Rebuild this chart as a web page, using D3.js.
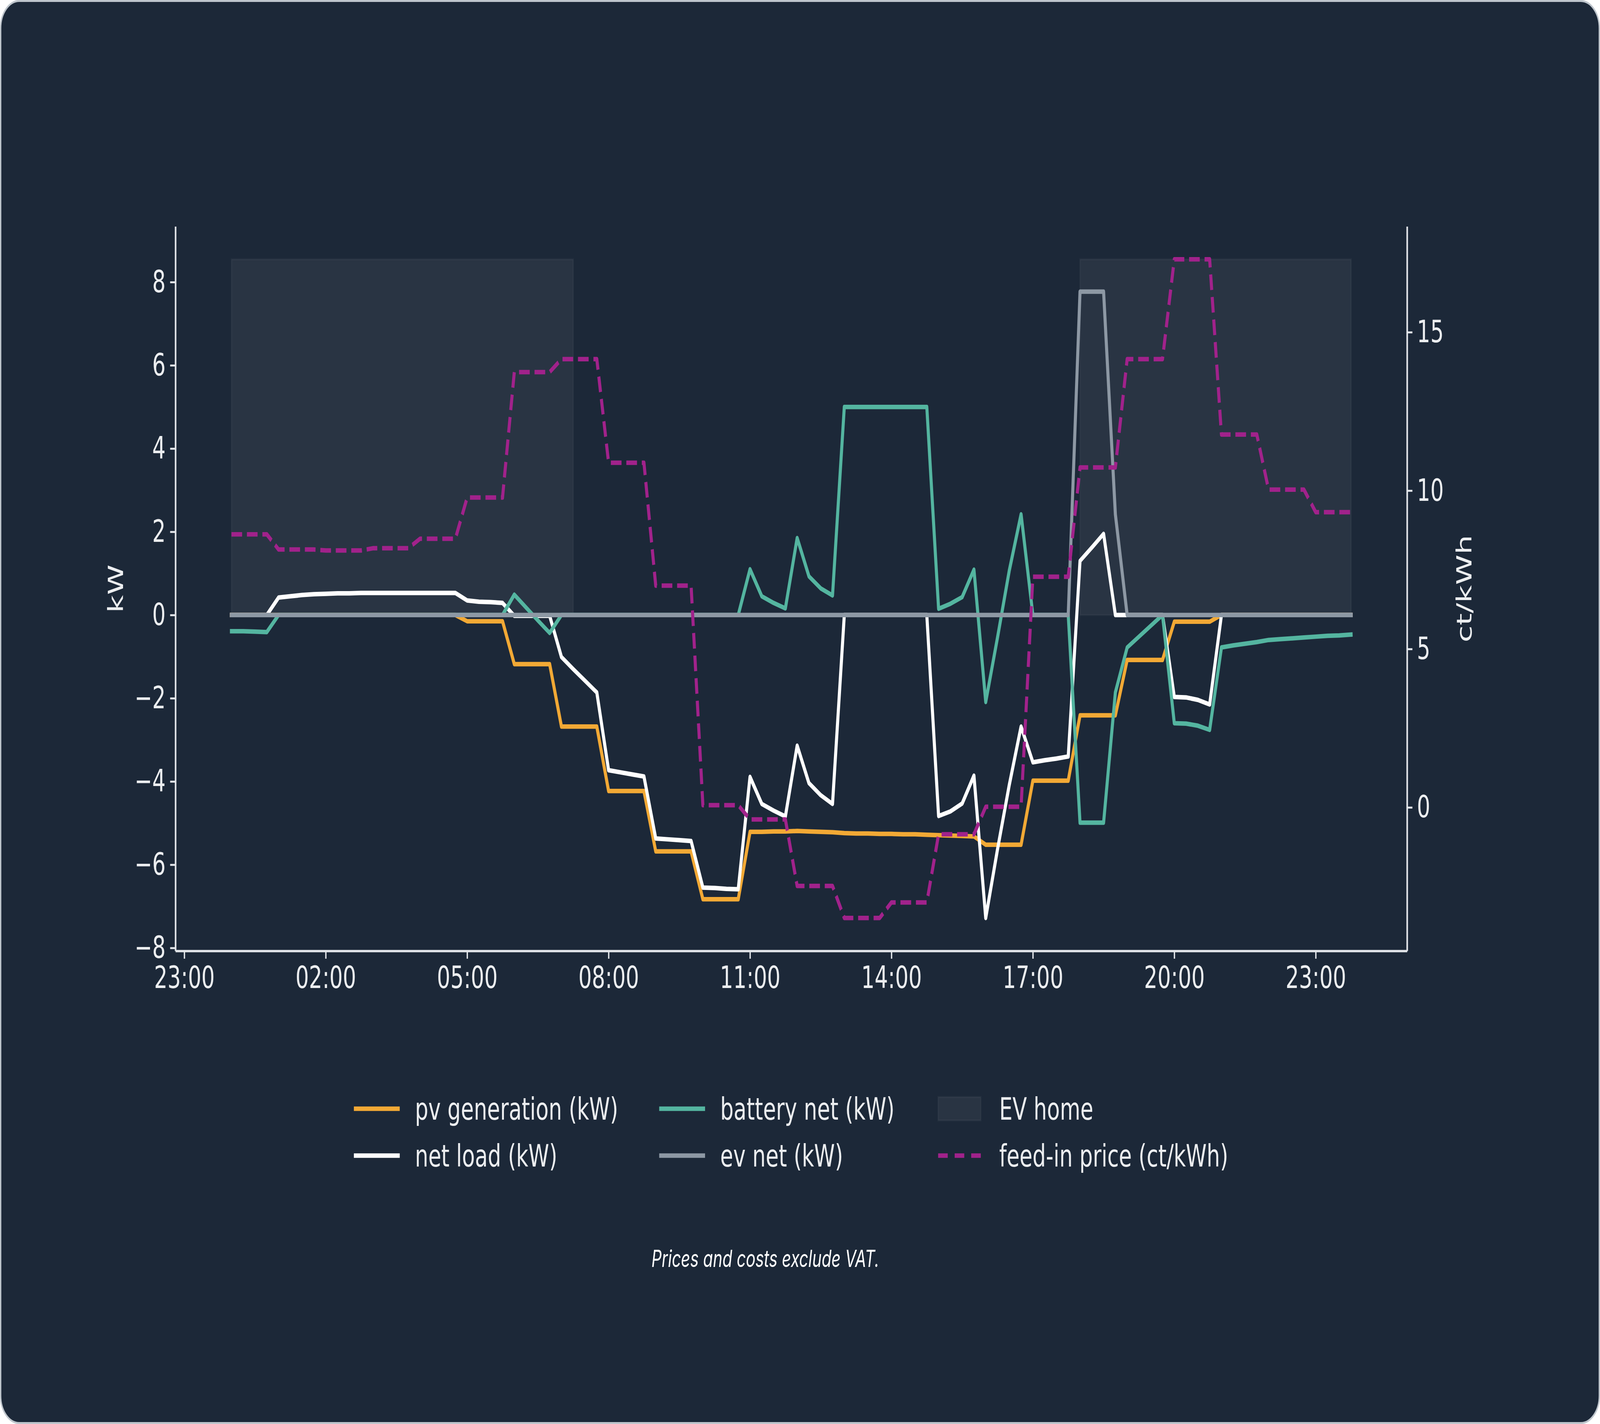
<!DOCTYPE html>
<html>
<head>
<meta charset="utf-8">
<script src="https://cdn.jsdelivr.net/npm/d3@7"></script>
<style>
  html, body { margin: 0; background: #ffffff; overflow: hidden; }
  svg { display: block; }
</style>
</head>
<body>
<script>
// Values per 15 minute slot, 00:00 .. 23:45 (one line per hour)
let pvGeneration = [
  0, 0, 0, 0,
  0, 0, 0, 0,
  0, 0, 0, 0,
  0, 0, 0, 0,
  0, 0, 0, 0,
  -0.15, -0.15, -0.15, -0.15,
  -1.18, -1.18, -1.18, -1.18,
  -2.68, -2.68, -2.68, -2.68,
  -4.23, -4.23, -4.23, -4.23,
  -5.68, -5.68, -5.68, -5.68,
  -6.83, -6.83, -6.83, -6.83,
  -5.21, -5.21, -5.20, -5.20,
  -5.19, -5.20, -5.21, -5.22,
  -5.24, -5.25, -5.25, -5.26,
  -5.26, -5.27, -5.27, -5.28,
  -5.29, -5.30, -5.31, -5.32,
  -5.52, -5.52, -5.52, -5.52,
  -3.98, -3.98, -3.98, -3.98,
  -2.41, -2.41, -2.41, -2.41,
  -1.08, -1.08, -1.08, -1.08,
  -0.16, -0.16, -0.16, -0.16,
  0, 0, 0, 0,
  0, 0, 0, 0,
  0, 0, 0, 0
];

let netLoad = [
  0, 0, 0, 0,
  0.42, 0.45, 0.48, 0.50,
  0.51, 0.52, 0.52, 0.53,
  0.53, 0.53, 0.53, 0.53,
  0.53, 0.53, 0.53, 0.53,
  0.35, 0.32, 0.31, 0.29,
  -0.02, -0.02, -0.02, -0.02,
  -1.01, -1.30, -1.58, -1.86,
  -3.73, -3.78, -3.83, -3.88,
  -5.37, -5.39, -5.41, -5.43,
  -6.55, -6.56, -6.58, -6.59,
  -3.89, -4.54, -4.70, -4.84,
  -3.14, -4.04, -4.33, -4.54,
  0, 0, 0, 0,
  0, 0, 0, 0,
  -4.83, -4.72, -4.53, -3.86,
  -7.28, -5.63, -4.08, -2.68,
  -3.54, -3.49, -3.45, -3.40,
  1.30, 1.62, 1.95, 0,
  0, 0, 0, 0,
  -1.97, -1.98, -2.04, -2.15,
  0, 0, 0, 0,
  0, 0, 0, 0,
  0, 0, 0, 0
];

let batteryNet = [
  -0.39, -0.39, -0.40, -0.41,
  0, 0, 0, 0,
  0, 0, 0, 0,
  0, 0, 0, 0,
  0, 0, 0, 0,
  0, 0, 0, 0,
  0.49, 0.18, -0.13, -0.43,
  0, 0, 0, 0,
  0, 0, 0, 0,
  0, 0, 0, 0,
  0, 0, 0, 0,
  1.10, 0.45, 0.29, 0.16,
  1.85, 0.93, 0.64, 0.47,
  5.0, 5.0, 5.0, 5.0,
  5.0, 5.0, 5.0, 5.0,
  0.15, 0.27, 0.43, 1.09,
  -2.09, -0.54, 1.07, 2.42,
  0, 0, 0, 0,
  -4.99, -4.99, -4.99, -1.86,
  -0.78, -0.52, -0.26, 0,
  -2.60, -2.61, -2.66, -2.76,
  -0.78, -0.73, -0.69, -0.65,
  -0.60, -0.58, -0.56, -0.54,
  -0.52, -0.50, -0.49, -0.47
];

let evNet = [
  0, 0, 0, 0,  0, 0, 0, 0,  0, 0, 0, 0,  0, 0, 0, 0,
  0, 0, 0, 0,  0, 0, 0, 0,  0, 0, 0, 0,  0, 0, 0, 0,
  0, 0, 0, 0,  0, 0, 0, 0,  0, 0, 0, 0,  0, 0, 0, 0,
  0, 0, 0, 0,  0, 0, 0, 0,  0, 0, 0, 0,  0, 0, 0, 0,
  0, 0, 0, 0,  0, 0, 0, 0,
  7.77, 7.77, 7.77, 2.42,
  0, 0, 0, 0,  0, 0, 0, 0,  0, 0, 0, 0,  0, 0, 0, 0,  0, 0, 0, 0
];

// hourly feed-in tariff, ct/kWh, hours 00 .. 23
let feedInPrice = [
  8.62, 8.14, 8.11, 8.18, 8.48, 9.78, 13.74, 14.15,
  10.88, 7.00, 0.07, -0.38, -2.48, -3.49, -3.00, -0.85,
  0.02, 7.28, 10.73, 14.15, 17.30, 11.77, 10.03, 9.32
];

// periods with the EV at home (hours)
let evHome = [[0, 7.25], [18, 23.75]];

let xTicks = [-1, 2, 5, 8, 11, 14, 17, 20, 23];
let kwTicks = [-8, -6, -4, -2, 0, 2, 4, 6, 8];
let priceTicks = [0, 5, 10, 15];

let legendItems = [
  {label: 'pv generation (kW)', color: '#f2a935', kind: 'line'},
  {label: 'net load (kW)', color: '#ffffff', kind: 'line'},
  {label: 'battery net (kW)', color: '#54b5a0', kind: 'line'},
  {label: 'ev net (kW)', color: '#8d98a4', kind: 'line'},
  {label: 'EV home', color: '#ffffff', kind: 'patch'},
  {label: 'feed-in price (ct/kWh)', color: '#a1228b', kind: 'dash'}
];

// drawing is laid out on a 6000 x 3645 canvas and scaled to the window
let
  width = 6000,
  height = 3645;

let plot = {left: 658, right: 5276.5, top: 579.5, bottom: 2434};

let bg = '#1c2838',
    axisColor = '#e3e6ea',
    textColor = '#eceef0',
    font = 'DejaVu Sans',
    fontSize = 79,
    lw = 11.5;

let slot = 0.25; // hours per sample
let toPoints = arr => arr.map((v, i) => ({t: i * slot, v: v}));
let pricePoints = pvGeneration.map((d, i) => ({t: i * slot, v: feedInPrice[Math.floor(i * slot)]}));

// matplotlib-like 5% margin
let pad = ([a, b]) => { let p = (b - a) * 0.05; return [a - p, b + p]; };

let svg = d3.select('body')
            .append('svg')
            .attr('viewBox', `0 0 ${width} ${height}`)
            .attr('preserveAspectRatio', 'none')
            .attr('width', window.innerWidth || width)
            .attr('height', window.innerHeight || height);

// card
svg.append('rect')
  .attr('x', 2.5).attr('y', 2.5)
  .attr('width', width - 5).attr('height', height - 5)
  .attr('rx', 70).attr('ry', 70)
  .attr('fill', bg)
  .attr('stroke', '#bec5cc')
  .attr('stroke-width', 5);

// scales
let allKw = pvGeneration.concat(netLoad, batteryNet, evNet);
let evHomeTop = d3.max(evNet) * 1.1;

let xScale = d3.scaleLinear()
              .domain(pad([0, (pvGeneration.length - 1) * slot]))
              .range([plot.left, plot.right]);

let yScale = d3.scaleLinear()
              .domain(pad([d3.min(allKw), Math.max(d3.max(allKw), evHomeTop)]))
              .range([plot.bottom, plot.top]);

let yPrice = d3.scaleLinear()
              .domain(pad(d3.extent(feedInPrice)))
              .range([plot.bottom, plot.top]);

// EV home shading
svg.append('g')
  .selectAll('rect')
  .data(evHome)
  .enter()
  .append('rect')
  .attr('x', d => xScale(d[0]))
  .attr('y', yScale(evHomeTop))
  .attr('width', d => xScale(d[1]) - xScale(d[0]))
  .attr('height', yScale(0) - yScale(evHomeTop))
  .attr('fill', '#ffffff')
  .attr('fill-opacity', 0.06)
  .attr('stroke', '#ffffff')
  .attr('stroke-opacity', 0.04)
  .attr('stroke-width', 5);

// axes
function styleAxis(g) {
  g.attr('font-family', font).attr('font-size', fontSize);
  g.select('.domain').attr('stroke', axisColor).attr('stroke-width', 6);
  g.selectAll('.tick line').attr('stroke', axisColor).attr('stroke-width', 5);
  g.selectAll('.tick text').attr('fill', textColor);
}

let fmtHour = h => String((h + 24) % 24).padStart(2, '0') + ':00';

svg.append('g')
  .attr('transform', `translate(0,${plot.bottom})`)
  .call(d3.axisBottom(xScale).tickValues(xTicks).tickFormat(fmtHour)
          .tickSize(20).tickPadding(19).tickSizeOuter(0))
  .call(styleAxis);

svg.append('g')
  .attr('transform', `translate(${plot.left},0)`)
  .call(d3.axisLeft(yScale).tickValues(kwTicks).tickFormat(d3.format('d'))
          .tickSize(20).tickPadding(17).tickSizeOuter(0))
  .call(styleAxis);

svg.append('g')
  .attr('transform', `translate(${plot.right},0)`)
  .call(d3.axisRight(yPrice).tickValues(priceTicks).tickFormat(d3.format('d'))
          .tickSize(20).tickPadding(17).tickSizeOuter(0))
  .call(styleAxis);

// axis labels
svg.append('text')
  .attr('transform', `translate(461,${(plot.top + plot.bottom) / 2}) rotate(-90)`)
  .text('kW')
  .style('text-anchor', 'middle')
  .attr('font-family', font).attr('font-size', fontSize)
  .attr('fill', textColor);

svg.append('text')
  .attr('transform', `translate(5518,${(plot.top + plot.bottom) / 2}) rotate(-90)`)
  .text('ct/kWh')
  .style('text-anchor', 'middle')
  .attr('font-family', font).attr('font-size', fontSize)
  .attr('fill', textColor);

// lines
let kwLine = d3.line().x(d => xScale(d.t)).y(d => yScale(d.v));
let priceLine = d3.line().x(d => xScale(d.t)).y(d => yPrice(d.v));

let series = [
  {values: pvGeneration, color: legendItems[0].color},
  {values: netLoad, color: legendItems[1].color},
  {values: batteryNet, color: legendItems[2].color},
  {values: evNet, color: legendItems[3].color}
];

svg.append('g')
  .selectAll('path')
  .data(series)
  .enter()
  .append('path')
  .attr('d', d => kwLine(toPoints(d.values)))
  .attr('fill', 'none')
  .attr('stroke', d => d.color)
  .attr('stroke-width', lw)
  .attr('stroke-linejoin', 'round')
  .attr('stroke-linecap', 'square');

svg.append('path')
  .attr('d', priceLine(pricePoints))
  .attr('fill', 'none')
  .attr('stroke', legendItems[5].color)
  .attr('stroke-width', lw)
  .attr('stroke-dasharray', '40,18')
  .attr('stroke-linejoin', 'round');

// legend: 3 columns, 2 rows, filled column by column
let colX = [1327, 2472, 3518];
let rowY = [2838, 2958];
let legend = svg.append('g')
  .attr('font-family', font).attr('font-size', fontSize);

legendItems.forEach((item, i) => {
  let cx = colX[Math.floor(i / 2)], cy = rowY[i % 2];
  if (item.kind === 'patch') {
    legend.append('rect')
      .attr('x', cx).attr('y', cy - 30)
      .attr('width', 160).attr('height', 60)
      .attr('fill', item.color).attr('fill-opacity', 0.06)
      .attr('stroke', item.color).attr('stroke-opacity', 0.04).attr('stroke-width', 5);
  } else {
    legend.append('line')
      .attr('x1', cx).attr('x2', cx + 172)
      .attr('y1', cy).attr('y2', cy)
      .attr('stroke', item.color)
      .attr('stroke-width', lw)
      .attr('stroke-dasharray', item.kind === 'dash' ? '36,26' : null);
  }
  legend.append('text')
    .attr('x', cx + 229)
    .attr('y', cy + 28)
    .text(item.label)
    .attr('fill', textColor);
});

// footnote
svg.append('text')
  .attr('x', 2870)
  .attr('y', 3243)
  .text('Prices and costs exclude VAT.')
  .style('text-anchor', 'middle')
  .attr('font-family', 'Inter')
  .attr('font-style', 'italic')
  .attr('font-size', 60)
  .attr('fill', '#ffffff');
</script>
</body>
</html>
